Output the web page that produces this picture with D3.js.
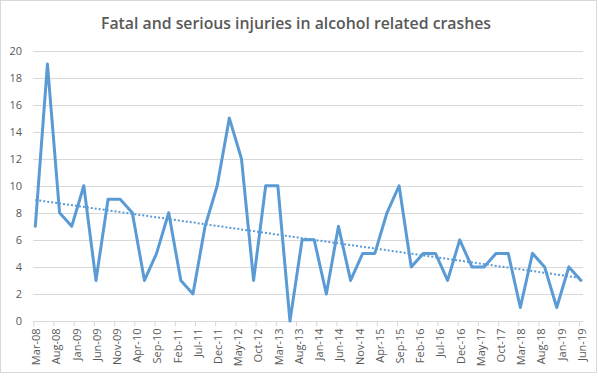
<!DOCTYPE html>
<html>
<head>
<meta charset="utf-8">
<script src="https://cdn.jsdelivr.net/npm/d3@7"></script>
<style>
  body { margin: 0; background: #fff; }
  svg { display: block; font-family: "Open Sans", "Liberation Sans", sans-serif; }
</style>
</head>
<body>
<svg id="chart" width="598" height="376"></svg>
<script>
// ---- data ----
const title = "Fatal and serious injuries in alcohol related crashes";
const periods = [
  "Mar-08","Jun-08","Sep-08","Dec-08","Mar-09","Jun-09","Sep-09","Dec-09",
  "Mar-10","Jun-10","Sep-10","Dec-10","Mar-11","Jun-11","Sep-11","Dec-11",
  "Mar-12","Jun-12","Sep-12","Dec-12","Mar-13","Jun-13","Sep-13","Dec-13",
  "Mar-14","Jun-14","Sep-14","Dec-14","Mar-15","Jun-15","Sep-15","Dec-15",
  "Mar-16","Jun-16","Sep-16","Dec-16","Mar-17","Jun-17","Sep-17","Dec-17",
  "Mar-18","Jun-18","Sep-18","Dec-18","Mar-19","Jun-19"
];
const injuries = [
  7,19,8,7,10,3,9,9,
  8,3,5,8,3,2,7,10,
  15,12,3,10,10,0,6,6,
  2,7,3,5,5,8,10,4,
  5,5,3,6,4,4,5,5,
  1,5,4,1,4,3
];
const tickLabels = [
  "Mar-08","Aug-08","Jan-09","Jun-09","Nov-09","Apr-10","Sep-10","Feb-11",
  "Jul-11","Dec-11","May-12","Oct-12","Mar-13","Aug-13","Jan-14","Jun-14",
  "Nov-14","Apr-15","Sep-15","Feb-16","Jul-16","Dec-16","May-17","Oct-17",
  "Mar-18","Aug-18","Jan-19","Jun-19"
];
const yTicks = [0,2,4,6,8,10,12,14,16,18,20];

(function () {
// ---- helpers ----
const parse = d3.timeParse("%b-%y");
const monthIndex = s => { const d = parse(s); return (d.getFullYear() - 2008) * 12 + d.getMonth() - 2; };

const svg = d3.select("#chart");
const pLeft = 33.3, pRight = 583, pTop = 50.5, pBottom = 321;

const firstM = monthIndex(periods[0]);
const lastM = monthIndex(periods[periods.length - 1]) + 1;
const x = d3.scaleLinear().domain([firstM, lastM]).range([pLeft, pRight]);
const y = d3.scaleLinear().domain([0, 20]).range([pBottom, pTop]);

// border
svg.append("rect").attr("x", 0.5).attr("y", 0.5).attr("width", 596).attr("height", 372)
  .attr("fill", "#fff").attr("stroke", "#d9d9d9");

// title
svg.append("text").attr("x", 296).attr("y", 28.5).attr("text-anchor", "middle")
  .attr("font-size", 16).attr("font-weight", 600).attr("fill", "#595959")
  .attr("textLength", 390).attr("lengthAdjust", "spacingAndGlyphs")
  .text(title);

// gridlines
svg.append("g").selectAll("line").data(yTicks.filter(v => v > 0)).join("line")
  .attr("x1", pLeft).attr("x2", pRight)
  .attr("y1", d => Math.round(y(d)) + 0.5).attr("y2", d => Math.round(y(d)) + 0.5)
  .attr("stroke", "#d9d9d9").attr("stroke-width", 1);

// y axis labels
const yAxis = d3.axisLeft(y).tickValues(yTicks).tickSize(0).tickPadding(0);
const gy = svg.append("g").attr("transform", "translate(22,0)").call(yAxis);
gy.select(".domain").remove();
gy.selectAll("text").attr("font-size", 11).attr("fill", "#595959")
  .attr("font-family", "'Open Sans', sans-serif");

// x axis
const xAxis = d3.axisBottom(x).tickValues(tickLabels.map(monthIndex))
  .tickSize(5).tickFormat((d, i) => tickLabels[i]);
const gx = svg.append("g").attr("transform", `translate(0,${Math.round(pBottom) + 0.5})`).call(xAxis);
gx.select(".domain").attr("stroke", "#d9d9d9").attr("d", `M${pLeft},0H${pRight}`);
gx.selectAll(".tick line").attr("stroke", "#d9d9d9");
gx.selectAll("text")
  .attr("font-size", 11).attr("fill", "#595959").attr("font-family", "'Open Sans', sans-serif")
  .attr("text-anchor", "end")
  .attr("transform", "translate(2.5,7) rotate(-90)")
  .attr("x", 0).attr("y", 0).attr("dy", "0.35em");

// data points
const pts = periods.map((p, i) => ({ m: monthIndex(p) + 0.5, v: injuries[i] }));

// trendline (least squares)
const n = pts.length;
const mx = d3.mean(pts, d => d.m), my = d3.mean(pts, d => d.v);
const slope = d3.sum(pts, d => (d.m - mx) * (d.v - my)) / d3.sum(pts, d => (d.m - mx) ** 2);
const icpt = my - slope * mx;
const m0 = pts[0].m, m1 = pts[n - 1].m;
svg.append("line")
  .attr("x1", x(m0)).attr("y1", y(icpt + slope * m0))
  .attr("x2", x(m1)).attr("y2", y(icpt + slope * m1))
  .attr("stroke", "#5b9bd5").attr("stroke-width", 2).attr("stroke-dasharray", "2,2");

// main line
const line = d3.line().x(d => x(d.m)).y(d => y(d.v));
svg.append("path").datum(pts).attr("d", line)
  .attr("fill", "none").attr("stroke", "#5b9bd5").attr("stroke-width", 3)
  .attr("stroke-linejoin", "round").attr("stroke-linecap", "round");
})();
</script>
</body>
</html>
